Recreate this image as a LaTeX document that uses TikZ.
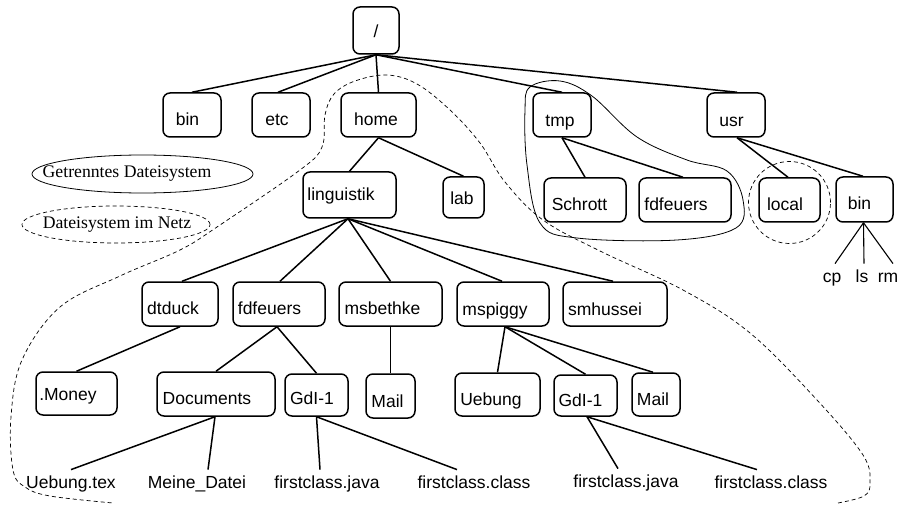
\documentclass[tikz,border=0pt]{standalone}
\usepackage{fontspec}
\setmainfont{Liberation Serif}
\newfontfamily\sansf{Liberation Sans}
\usetikzlibrary{shapes.geometric,calc}
\newcommand\lsh[2]{#2\hspace*{#1pt}}
\tikzset{
  dirbox/.style={draw, rounded corners=7pt, line width=1.5pt, inner sep=0pt,
    text height=21pt, text depth=0pt,
    font=\sansf\fontsize{17.5}{20}\selectfont},
  leaf/.style={anchor=base, inner xsep=0pt, inner ysep=5.5pt, text height=12.7pt,
    font=\sansf\fontsize{17.5}{20}\selectfont},
  edge/.style={line width=1.5pt},
  thinedge/.style={line width=1.1pt},
  netz/.style={line width=0.7pt, dash pattern=on 4pt off 3pt},
  sep/.style={line width=0.8pt},
  legtext/.style={font=\fontsize{17.7}{20}\selectfont}
}
\begin{document}
\begin{tikzpicture}[x=1pt,y=-1pt]
\useasboundingbox (0,0) rectangle (902,505);
% directories
\node[dirbox, text height=14pt, minimum width=46, minimum height=47] (root) at (376,30.5) {/};
\node[dirbox, minimum width=58, minimum height=44] (bin) at (192,115) {\lsh{9}{bin}};
\node[dirbox, minimum width=58, minimum height=44] (etc) at (281,115) {\lsh{8}{etc}};
\node[dirbox, minimum width=75, minimum height=44] (home) at (378.5,115) {\lsh{5}{home}};
\node[dirbox, text height=24pt, minimum width=58, minimum height=44] (tmp) at (562,115) {\lsh{4}{tmp}};
\node[dirbox, text height=24pt, minimum width=58, minimum height=44] (usr) at (736,115) {\lsh{9}{usr}};
\node[dirbox, text height=12pt, minimum width=93, minimum height=46] (ling) at (349.5,195) {\lsh{17}{linguistik}};
\node[dirbox, text height=15pt, minimum width=41, minimum height=41] (lab) at (463.5,197.5) {\lsh{3}{lab}};
\node[dirbox, text height=22pt, minimum width=82, minimum height=44] (schrott) at (585,200) {\lsh{11}{Schrott}};
\node[dirbox, minimum width=92, minimum height=44] (fdtmp) at (685,200) {\lsh{18}{fdfeuers}};
\node[dirbox, minimum width=61, minimum height=44] (local) at (789.5,200) {\lsh{9}{local}};
\node[dirbox, minimum width=57, minimum height=45] (ubin) at (864.5,199.5) {\lsh{10}{bin}};
\node[dirbox, minimum width=76, minimum height=44] (dtduck) at (180,304) {\lsh{14}{dtduck}};
\node[dirbox, minimum width=92, minimum height=44] (fdf) at (279,304) {\lsh{19}{fdfeuers}};
\node[dirbox, minimum width=103, minimum height=44] (msb) at (390.5,304) {\lsh{16}{msbethke}};
\node[dirbox, text height=22pt, minimum width=92, minimum height=44] (msp) at (503,304) {\lsh{16}{mspiggy}};
\node[dirbox, text height=22pt, minimum width=104, minimum height=44] (smh) at (615,304) {\lsh{20}{smhussei}};
\node[dirbox, text height=13pt, minimum width=81, minimum height=43] (money) at (76.5,393.5) {\lsh{17}{.Money}};
\node[dirbox, minimum width=118, minimum height=44] (docs) at (216,394) {\lsh{18}{Documents}};
\node[dirbox, text height=18pt, minimum width=63, minimum height=42] (gdla) at (316.5,395) {\lsh{9}{GdI-1}};
\node[dirbox, text height=22pt, minimum width=49, minimum height=44] (maila) at (390.5,396) {\lsh{6}{Mail}};
\node[dirbox, minimum width=85, minimum height=43] (uebung) at (497.5,394.5) {\lsh{13}{Uebung}};
\node[dirbox, minimum width=63, minimum height=41] (gdlb) at (585.5,395.5) {\lsh{10}{GdI-1}};
\node[dirbox, minimum width=48, minimum height=43] (mailb) at (656,394.5) {\lsh{6}{Mail}};
% files
\node[leaf] (utex) at (71,488) {Uebung.tex};
\node[leaf] (meine) at (197,488) {Meine\_Datei};
\node[leaf] (fja) at (327,488) {firstclass.java};
\node[leaf] (fca) at (474,488) {firstclass.class};
\node[leaf] (fjb) at (626,487) {firstclass.java};
\node[leaf] (fcb) at (771,488) {firstclass.class};
\node[leaf] (cp) at (832,282) {cp};
\node[leaf] (ls) at (862,282) {ls};
\node[leaf] (rm) at (888,282) {rm};
% connectors
\foreach \c/\s in {bin/0,etc/-3,home/0,tmp/0,usr/1}
  \draw[edge] (root.south) -- ([xshift=\s pt]\c.north);
\draw[edge] (home.south) -- (ling.north);
\draw[edge] (home.south) -- (lab.north);
\foreach \c/\s in {dtduck/2,fdf/1,msb/0,msp/-1,smh/-2}
  \draw[edge] ([xshift=-1.5pt]ling.south) -- ([xshift=\s pt]\c.north);
\draw[edge] (dtduck.south) -- (money.north);
\draw[edge] ([xshift=-2pt]fdf.south) -- (docs.north);
\draw[edge] ([xshift=-2pt]fdf.south) -- (gdla.north);
\draw[edge] (msb.south) -- (maila.north);
\draw[edge] ([xshift=-1pt]docs.south) -- (utex.north);
\draw[edge] ([xshift=-1pt]docs.south) -- ([xshift=11pt]meine.north);
\draw[edge] (gdla.south) -- ([xshift=-7pt]fja.north);
\draw[edge] (gdla.south) -- ([xshift=-17pt]fca.north);
\draw[edge] ([xshift=2pt]msp.south) -- (uebung.north);
\draw[edge] ([xshift=2pt]msp.south) -- (gdlb.north);
\draw[edge] ([xshift=2pt]msp.south) -- ([xshift=-3pt]mailb.north);
\draw[edge] ([xshift=1.5pt]gdlb.south) -- ([xshift=-8pt]fjb.north);
\draw[edge] ([xshift=1.5pt]gdlb.south) -- ([xshift=-14pt]fcb.north);
\draw[edge] (tmp.south) -- (schrott.north);
\draw[edge] (tmp.south) -- ([xshift=-2pt]fdtmp.north);
\draw[edge] ([xshift=1pt]usr.south) -- ([xshift=-1.5pt]local.north);
\draw[edge] ([xshift=1pt]usr.south) -- ([xshift=-1.5pt]ubin.north);
\draw[thinedge] ([xshift=-1pt]ubin.south) -- ([xshift=3pt]cp.north);
\draw[thinedge] ([xshift=-1pt]ubin.south) -- ([xshift=2pt]ls.north);
\draw[thinedge] ([xshift=-1pt]ubin.south) -- ([xshift=5pt]rm.north);
% file system outlines
\draw[sep] plot[smooth cycle, tension=0.6] coordinates {(530,87) (560,81) (592,96) (637,137) (687,160) (727,171) (743,200) (736,228) (677,240) (577,238) (540,223) (527,165) (525,110)};
\draw[netz] ([yshift=-2.5pt]local.center) circle[radius=41pt];
\draw[netz] plot[smooth, tension=0.6] coordinates {(838,503) (864,496) (870,483) (863,455) (817,400) (750,333) (683,290) (600,251) (543,220) (505,182) (480,143) (450,110) (417,84) (387,75) (355,81) (334,94) (325,115) (322,147) (300,170) (217,227) (180,250) (120,276) (60,307) (22,360) (11,417) (13,470) (25,487) (50,496) (113,503)};
% legend
\node[draw, sep, ellipse, minimum width=221, minimum height=38, inner sep=0pt,
  label={[legtext, xshift=-15.5pt, name=leg1t]center:Getrenntes Dateisystem}] (leg1) at (142.5,174) {};
\node[draw, netz, ellipse, minimum width=188, minimum height=37, inner sep=0pt,
  label={[legtext, xshift=1pt, name=leg2t]center:Dateisystem im Netz}] (leg2) at (116,224.5) {};
\end{tikzpicture}
\end{document}
